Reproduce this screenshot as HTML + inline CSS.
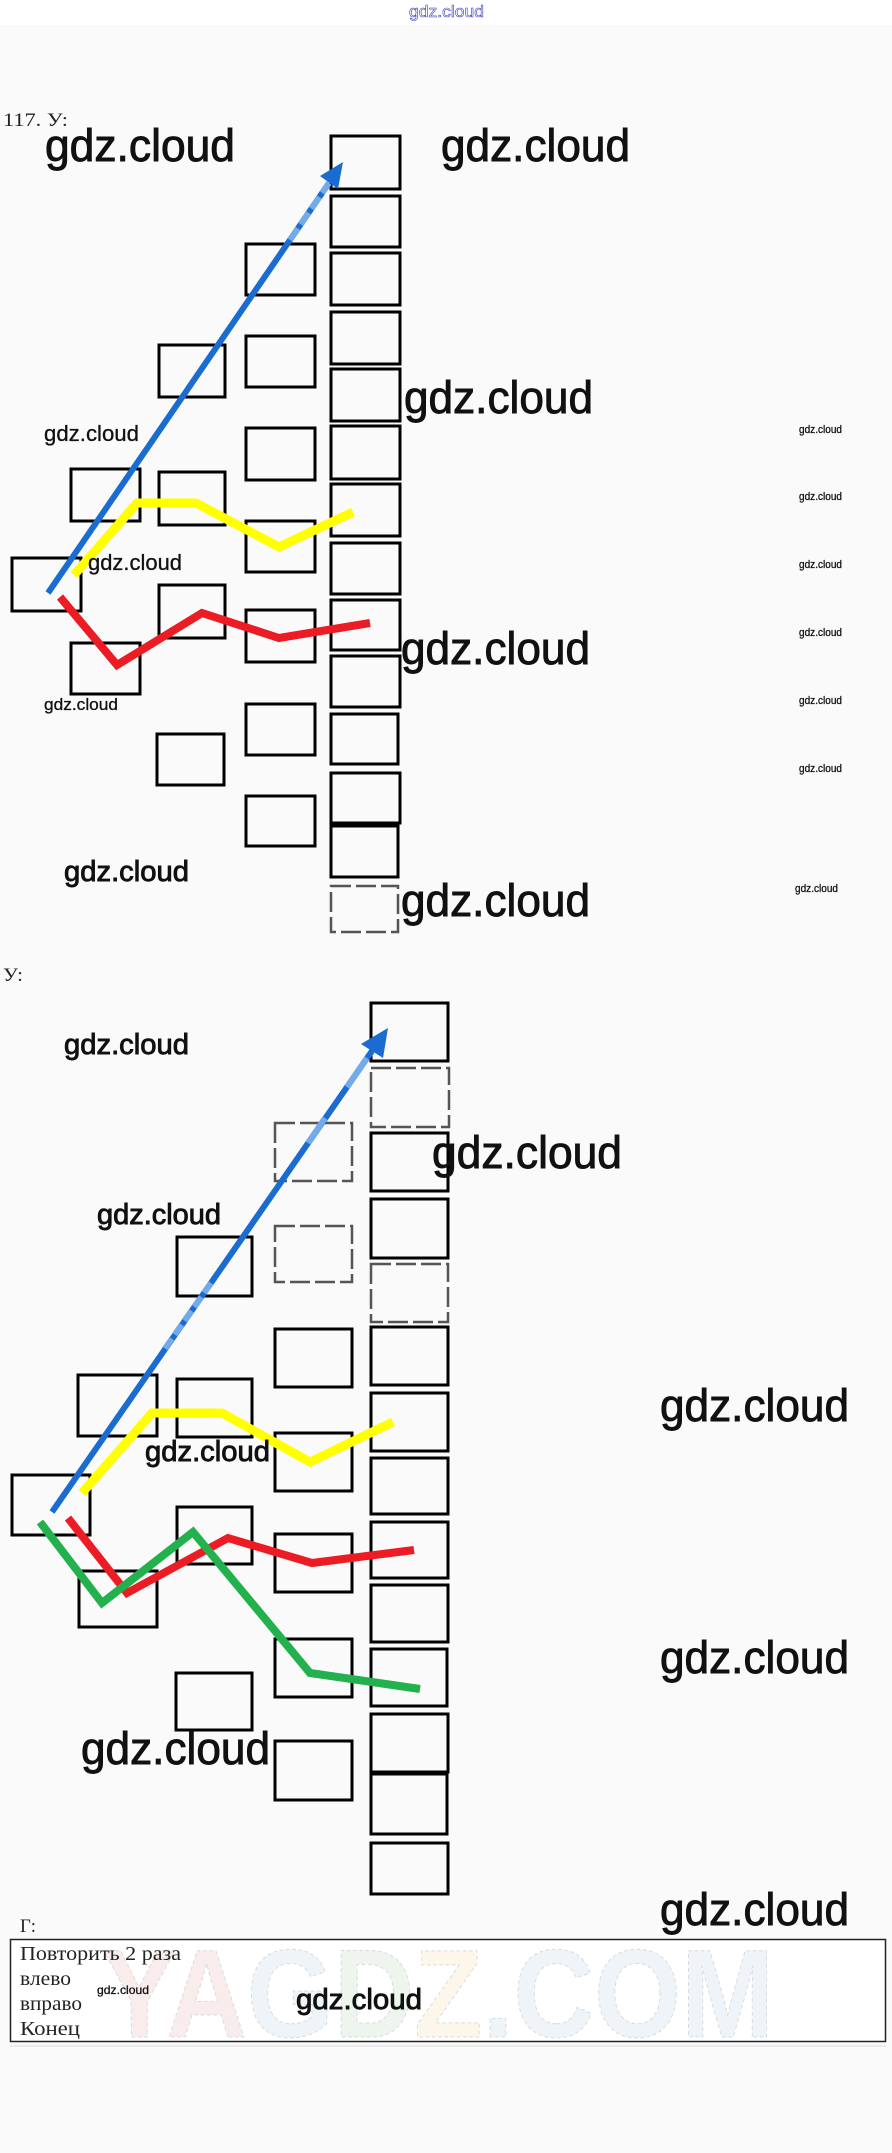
<!DOCTYPE html>
<html>
<head>
<meta charset="utf-8">
<style>
html,body{margin:0;padding:0;background:#fafafa;}
svg{display:block;}
.b{fill:none;stroke:#000;stroke-width:3;}
.g{fill:none;stroke:#555;stroke-width:2.5;stroke-dasharray:20 5;}
.w{font-family:"Liberation Sans",sans-serif;fill:#111;stroke:#111;stroke-width:0.9;}
.ws{font-family:"Liberation Sans",sans-serif;fill:#111;stroke:#111;stroke-width:0.3;}
.s{font-family:"Liberation Serif","DejaVu Serif",serif;fill:#222;}
</style>
</head>
<body>
<svg width="892" height="2153" viewBox="0 0 892 2153" xmlns="http://www.w3.org/2000/svg">
<rect x="0" y="0" width="892" height="2153" fill="#fafafa"/>
<rect x="0" y="0" width="892" height="25" fill="#ffffff"/>
<text x="409" y="17" font-size="17" textLength="75" lengthAdjust="spacingAndGlyphs" style="font-family:'Liberation Sans',sans-serif;fill:#fff;stroke:#3a3acc;stroke-width:0.6;">gdz.cloud</text>

<text class="s" x="3" y="126" font-size="19" textLength="65" lengthAdjust="spacingAndGlyphs" fill="#444">117. У:</text>

<!-- TOP DIAGRAM BOXES -->
<g>
<rect class="b" x="331" y="136" width="69" height="53"/>
<rect class="b" x="331" y="196" width="69" height="51"/>
<rect class="b" x="331" y="253" width="69" height="52"/>
<rect class="b" x="331" y="312" width="69" height="52"/>
<rect class="b" x="331" y="369" width="69" height="52"/>
<rect class="b" x="331" y="426" width="69" height="53"/>
<rect class="b" x="331" y="484" width="69" height="52"/>
<rect class="b" x="331" y="543" width="69" height="51"/>
<rect class="b" x="331" y="600" width="69" height="50"/>
<rect class="b" x="331" y="656" width="69" height="51"/>
<rect class="b" x="331" y="714" width="67" height="50"/>
<rect class="b" x="331" y="773" width="69" height="50"/>
<rect class="b" x="331" y="826" width="67" height="51"/>
<rect class="g" x="331" y="886" width="67" height="46"/>
<rect class="b" x="246" y="244" width="69" height="51"/>
<rect class="b" x="246" y="336" width="69" height="51"/>
<rect class="b" x="246" y="428" width="69" height="52"/>
<rect class="b" x="246" y="521" width="69" height="51"/>
<rect class="b" x="246" y="610" width="69" height="52"/>
<rect class="b" x="246" y="704" width="69" height="51"/>
<rect class="b" x="246" y="796" width="69" height="50"/>
<rect class="b" x="159" y="345" width="66" height="52"/>
<rect class="b" x="159" y="472" width="66" height="53"/>
<rect class="b" x="159" y="585" width="66" height="53"/>
<rect class="b" x="157" y="734" width="67" height="51"/>
<rect class="b" x="71" y="469" width="69" height="52"/>
<rect class="b" x="12" y="558" width="69" height="53"/>
<rect class="b" x="71" y="643" width="69" height="51"/>
</g>

<!-- TOP LINES -->
<polyline points="74,575 137,503 196,503 279,547 353,512" fill="none" stroke="#ffff00" stroke-width="9" stroke-linejoin="miter"/>
<polyline points="60,597 117,665 202,613 279,638 370,623" fill="none" stroke="#ec1c24" stroke-width="8" stroke-linejoin="miter"/>
<line x1="48" y1="593" x2="329" y2="183" stroke="#1a6cd0" stroke-width="6"/>
<line x1="290" y1="240" x2="329" y2="183" stroke="#72aaea" stroke-width="6" stroke-dasharray="14 5"/>
<polygon points="343,162 338,189 320,176" fill="#1a6cd0"/>

<!-- TOP WATERMARKS -->
<text class="w" x="45" y="161" font-size="45" textLength="190" lengthAdjust="spacingAndGlyphs">gdz.cloud</text>
<text class="w" x="441" y="161" font-size="45" textLength="189" lengthAdjust="spacingAndGlyphs">gdz.cloud</text>
<text class="w" x="404" y="413" font-size="45" textLength="189" lengthAdjust="spacingAndGlyphs">gdz.cloud</text>
<text class="ws" x="44" y="441" font-size="22" textLength="95" lengthAdjust="spacingAndGlyphs">gdz.cloud</text>
<text class="ws" x="88" y="570" font-size="22" textLength="94" lengthAdjust="spacingAndGlyphs">gdz.cloud</text>
<text class="ws" x="44" y="710" font-size="17" textLength="74" lengthAdjust="spacingAndGlyphs">gdz.cloud</text>
<text class="w" x="64" y="881" font-size="29" textLength="125" lengthAdjust="spacingAndGlyphs">gdz.cloud</text>
<text class="w" x="401" y="664" font-size="45" textLength="189" lengthAdjust="spacingAndGlyphs">gdz.cloud</text>
<text class="w" x="401" y="916" font-size="45" textLength="189" lengthAdjust="spacingAndGlyphs">gdz.cloud</text>
<text class="ws" x="799" y="433" font-size="11" textLength="43" lengthAdjust="spacingAndGlyphs">gdz.cloud</text>
<text class="ws" x="799" y="500" font-size="11" textLength="43" lengthAdjust="spacingAndGlyphs">gdz.cloud</text>
<text class="ws" x="799" y="568" font-size="11" textLength="43" lengthAdjust="spacingAndGlyphs">gdz.cloud</text>
<text class="ws" x="799" y="636" font-size="11" textLength="43" lengthAdjust="spacingAndGlyphs">gdz.cloud</text>
<text class="ws" x="799" y="704" font-size="11" textLength="43" lengthAdjust="spacingAndGlyphs">gdz.cloud</text>
<text class="ws" x="799" y="772" font-size="11" textLength="43" lengthAdjust="spacingAndGlyphs">gdz.cloud</text>
<text class="ws" x="795" y="892" font-size="11" textLength="43" lengthAdjust="spacingAndGlyphs">gdz.cloud</text>

<text class="s" x="3" y="981" font-size="19" textLength="20" lengthAdjust="spacingAndGlyphs" fill="#444">У:</text>

<!-- BOTTOM DIAGRAM BOXES -->
<g>
<rect class="b" x="371" y="1003" width="77" height="58"/>
<rect class="g" x="371" y="1068" width="78" height="59"/>
<rect class="b" x="371" y="1133" width="77" height="58"/>
<rect class="b" x="371" y="1199" width="77" height="59"/>
<rect class="g" x="371" y="1264" width="77" height="58"/>
<rect class="b" x="371" y="1327" width="77" height="58"/>
<rect class="b" x="371" y="1393" width="77" height="58"/>
<rect class="b" x="371" y="1458" width="77" height="56"/>
<rect class="b" x="371" y="1522" width="77" height="56"/>
<rect class="b" x="371" y="1585" width="77" height="57"/>
<rect class="b" x="371" y="1649" width="76" height="57"/>
<rect class="b" x="371" y="1714" width="77" height="58"/>
<rect class="b" x="371" y="1774" width="76" height="60"/>
<rect class="b" x="371" y="1843" width="77" height="51"/>
<rect class="g" x="275" y="1123" width="77" height="58"/>
<rect class="g" x="275" y="1226" width="77" height="56"/>
<rect class="b" x="275" y="1329" width="77" height="58"/>
<rect class="b" x="275" y="1433" width="77" height="58"/>
<rect class="b" x="275" y="1534" width="77" height="58"/>
<rect class="b" x="275" y="1639" width="77" height="58"/>
<rect class="b" x="275" y="1741" width="77" height="59"/>
<rect class="b" x="177" y="1237" width="75" height="59"/>
<rect class="b" x="177" y="1379" width="75" height="58"/>
<rect class="b" x="177" y="1507" width="75" height="57"/>
<rect class="b" x="176" y="1673" width="76" height="57"/>
<rect class="b" x="78" y="1375" width="79" height="61"/>
<rect class="b" x="12" y="1475" width="78" height="60"/>
<rect class="b" x="79" y="1571" width="78" height="56"/>
</g>

<!-- BOTTOM LINES -->
<polyline points="82,1493 152,1413 222,1413 310,1462 393,1422" fill="none" stroke="#ffff00" stroke-width="9" stroke-linejoin="miter"/>
<polyline points="68,1518 127,1593 228,1538 312,1563 414,1550" fill="none" stroke="#ec1c24" stroke-width="8" stroke-linejoin="miter"/>
<polyline points="40,1522 102,1603 193,1532 310,1673 420,1689" fill="none" stroke="#22b14c" stroke-width="8" stroke-linejoin="miter"/>
<line x1="52" y1="1512" x2="372" y2="1051" stroke="#1a6cd0" stroke-width="6"/>
<line x1="211" y1="1283" x2="164" y2="1350" stroke="#72aaea" stroke-width="6" stroke-dasharray="12 5"/>
<line x1="308" y1="1143" x2="325" y2="1118" stroke="#72aaea" stroke-width="6"/>
<line x1="347" y1="1087" x2="367" y2="1058" stroke="#72aaea" stroke-width="6"/>
<polygon points="388,1028 383,1058 361,1044" fill="#1a6cd0"/>

<!-- BOTTOM WATERMARKS -->
<text class="w" x="64" y="1054" font-size="29" textLength="125" lengthAdjust="spacingAndGlyphs">gdz.cloud</text>
<text class="w" x="432" y="1168" font-size="45" textLength="190" lengthAdjust="spacingAndGlyphs">gdz.cloud</text>
<text class="w" x="97" y="1224" font-size="29" textLength="124" lengthAdjust="spacingAndGlyphs">gdz.cloud</text>
<text class="w" x="660" y="1421" font-size="45" textLength="189" lengthAdjust="spacingAndGlyphs">gdz.cloud</text>
<text class="w" x="145" y="1461" font-size="29" textLength="125" lengthAdjust="spacingAndGlyphs">gdz.cloud</text>
<text class="w" x="660" y="1673" font-size="45" textLength="189" lengthAdjust="spacingAndGlyphs">gdz.cloud</text>
<text class="w" x="81" y="1764" font-size="45" textLength="189" lengthAdjust="spacingAndGlyphs">gdz.cloud</text>
<text class="w" x="660" y="1925" font-size="45" textLength="189" lengthAdjust="spacingAndGlyphs">gdz.cloud</text>

<text class="s" x="20" y="1932" font-size="19" textLength="16" lengthAdjust="spacingAndGlyphs" fill="#444">Г:</text>

<!-- BOTTOM BOX -->
<rect x="10.5" y="1939.5" width="875" height="102" fill="#ffffff" stroke="#222" stroke-width="1.5"/>
<line x1="10" y1="2046" x2="886" y2="2046" stroke="#e4e4e4" stroke-width="1.5"/>
<text x="102" y="2037" font-size="125" textLength="672" lengthAdjust="spacingAndGlyphs" style="font-family:'Liberation Sans',sans-serif;font-weight:bold;stroke:#dadada;stroke-width:1;stroke-dasharray:4 3;"><tspan fill="#f9ecec">Y</tspan><tspan fill="#f9ecec">A</tspan><tspan fill="#eff4f9">G</tspan><tspan fill="#eef5ef">D</tspan><tspan fill="#fcf7ea">Z</tspan><tspan fill="#eff4f9">.</tspan><tspan fill="#eff4f9">C</tspan><tspan fill="#eff4f9">O</tspan><tspan fill="#eff4f9">M</tspan></text>
<text class="s" x="20" y="1960" font-size="20" textLength="161" lengthAdjust="spacingAndGlyphs">Повторить 2 раза</text>
<text class="s" x="20" y="1985" font-size="20" textLength="51" lengthAdjust="spacingAndGlyphs">влево</text>
<text class="s" x="20" y="2010" font-size="20" textLength="62" lengthAdjust="spacingAndGlyphs">вправо</text>
<text class="s" x="20" y="2035" font-size="20" textLength="60" lengthAdjust="spacingAndGlyphs">Конец</text>
<text class="ws" x="97" y="1994" font-size="12" textLength="52" lengthAdjust="spacingAndGlyphs">gdz.cloud</text>
<text class="w" x="296" y="2009" font-size="29" textLength="126" lengthAdjust="spacingAndGlyphs">gdz.cloud</text>
</svg>
</body>
</html>
